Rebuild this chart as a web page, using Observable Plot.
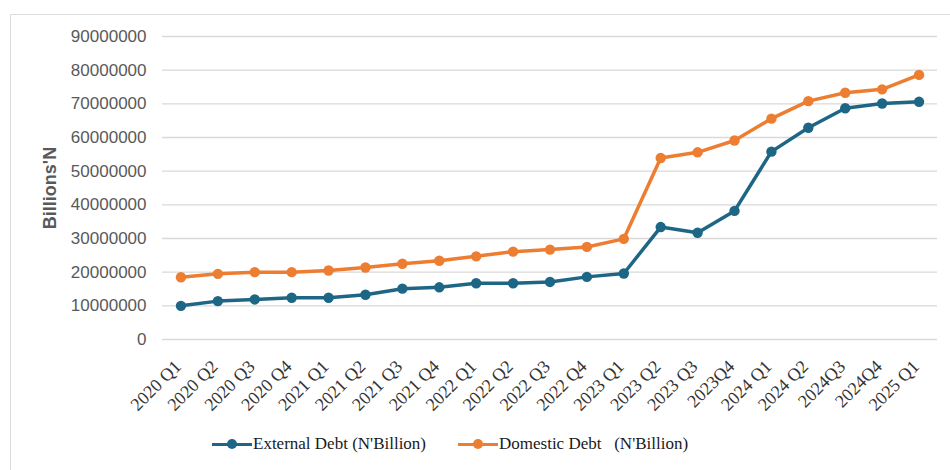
<!DOCTYPE html>
<html>
<head>
<meta charset="utf-8">
<script src="https://cdn.jsdelivr.net/npm/d3@7"></script>
<script src="https://cdn.jsdelivr.net/npm/@observablehq/plot@0.6"></script>
<style>
  html, body { margin: 0; padding: 0; background: #fff; overflow: hidden; width: 950px; height: 470px; }
  #frame { position: absolute; left: 10px; top: 14px; width: 960px; height: 480px; border: 1px solid #dcdcdc; box-sizing: border-box; }
  #chart { position: absolute; left: 0; top: 0; width: 950px; }
  #legend { position: absolute; top: 433px; left: 0; width: 950px; font-family: "Liberation Serif", "Times New Roman", serif; font-size: 17px; color: #1a1a1a; }
  .item { position: absolute; display: flex; align-items: center; white-space: pre; }
  .sw { position: relative; width: 40px; height: 22px; margin-right: 1px; }
  .sw .ln { position: absolute; left: 0; right: 0; top: 9.5px; height: 3px; }
  .sw .dt { position: absolute; left: 15px; top: 6px; width: 10px; height: 10px; border-radius: 50%; }
</style>
</head>
<body>
<div id="frame"></div>
<div id="chart"></div>
<div id="legend"></div>
<script>
const quarters = ["2020 Q1","2020 Q2","2020 Q3","2020 Q4","2021 Q1","2021 Q2","2021 Q3","2021 Q4","2022 Q1","2022 Q2","2022 Q3","2022 Q4","2023 Q1","2023 Q2","2023 Q3","2023Q4","2024 Q1","2024 Q2","2024Q3","2024Q4","2025 Q1"];
const externalDebt = [10000000,11400000,11900000,12400000,12400000,13300000,15100000,15500000,16700000,16700000,17100000,18600000,19600000,33400000,31700000,38200000,55800000,62900000,68700000,70100000,70600000];
const domesticDebt = [18500000,19500000,20000000,20000000,20500000,21400000,22500000,23400000,24700000,26100000,26700000,27500000,29900000,53900000,55600000,59100000,65600000,70800000,73300000,74300000,78600000];
const seriesNames = ["External Debt (N'Billion)", "Domestic Debt   (N'Billion)"];
const seriesColors = ["#1d6686", "#ed7d31"];
const yTicks = [0,10000000,20000000,30000000,40000000,50000000,60000000,70000000,80000000,90000000];
const yLabel = "Billions'N";

const rows = [];
quarters.forEach((q, i) => {
  rows.push({q, v: externalDebt[i], s: seriesNames[0]});
  rows.push({q, v: domesticDebt[i], s: seriesNames[1]});
});

const chart = Plot.plot({
  width: 950,
  height: 420,
  marginLeft: 162,
  marginRight: 13,
  marginTop: 36,
  marginBottom: 81,
  style: {background: "transparent", overflow: "visible"},
  x: {type: "point", domain: quarters, padding: 0.5, round: false, label: null},
  y: {domain: [0, 90000000], ticks: yTicks, label: null},
  color: {domain: seriesNames, range: seriesColors},
  marks: [
    Plot.ruleY(yTicks, {stroke: "#d9d9d9", strokeWidth: 1.3}),
    Plot.axisY({ticks: yTicks, tickSize: 0, tickPadding: 16, tickFormat: d => String(d), fontSize: 17, fill: "#595959", fontFamily: "Liberation Sans, Arial, sans-serif", label: null}),
    Plot.axisX({tickSize: 0, tickRotate: -45, tickPadding: 24, dx: -3, fontSize: 18, fill: "#333333", fontFamily: "Liberation Serif, Times New Roman, serif", label: null}),
    Plot.text([yLabel], {frameAnchor: "left", textAnchor: "middle", dx: -112, rotate: -90, fontSize: 18, fontWeight: "bold", fill: "#595959", fontFamily: "Liberation Sans, Arial, sans-serif"}),
    Plot.line(rows, {x: "q", y: "v", z: "s", stroke: "s", strokeWidth: 3.5}),
    Plot.dot(rows, {x: "q", y: "v", fill: "s", r: 5.2})
  ]
});
document.getElementById("chart").appendChild(chart);

const legend = document.getElementById("legend");
const positions = [212, 458];
seriesNames.forEach((name, i) => {
  const it = document.createElement("div");
  it.className = "item";
  it.style.left = positions[i] + "px";
  it.innerHTML = `<span class="sw"><span class="ln" style="background:${seriesColors[i]}"></span><span class="dt" style="background:${seriesColors[i]}"></span></span><span></span>`;
  it.lastChild.textContent = name;
  legend.appendChild(it);
});
</script>
</body>
</html>
